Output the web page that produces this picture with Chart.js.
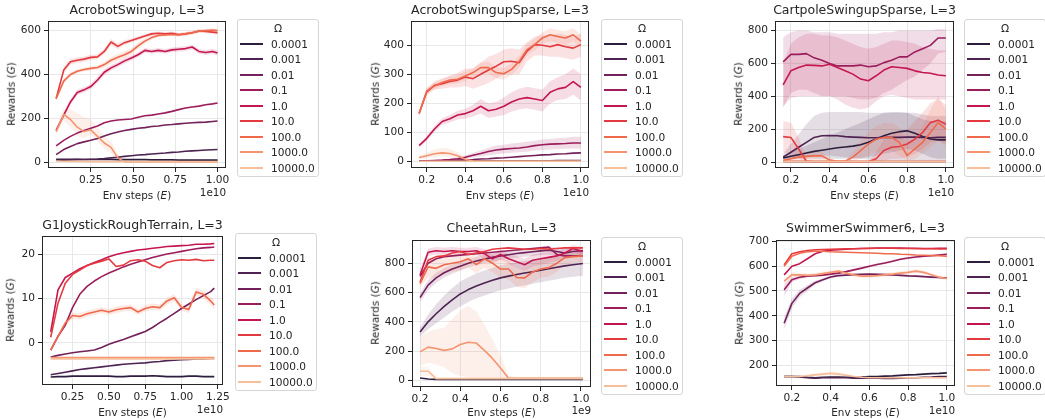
<!DOCTYPE html>
<html lang="en">
<head>
  <meta charset="UTF-8">
  <title>Rewards vs env steps for different Ω</title>
  <script src="https://cdn.jsdelivr.net/npm/chart.js"></script>
  <style>
    body {
      margin: 0;
      background: #fff;
      font-family: 'DejaVu Sans', sans-serif;
      color: #262626;
    }

    #stage {
      position: relative;
      width: 1045px;
      height: 420px;
      overflow: hidden;
    }

    .txt {
      position: absolute;
      white-space: nowrap;
      line-height: 1;
    }

    .title { font-size: 12.5px; transform: translate(-50%, -50%); }
    .xlab { font-size: 10.4px; transform: translate(-50%, -50%); }
    .ylab { font-size: 10.4px; transform: translate(-50%, -50%) rotate(-90deg); }
    .offset { font-size: 10.4px; transform: translate(-100%, -50%); }

    .legend {
      position: absolute;
      width: 82px;
      height: 158px;
      border: 1px solid #d6d6d6;
      border-radius: 3px;
      background: #fff;
      box-sizing: border-box;
      font-size: 10.6px;
    }

    .legend .lt { position: absolute; left: 0; right: 0; text-align: center; transform: translateY(-50%); }
    .legend .sw { position: absolute; left: 2px; width: 23px; height: 2px; }
    .legend .lb { position: absolute; left: 33px; transform: translateY(-50%); white-space: nowrap; }
  </style>
</head>
<body>
  <div id="stage"></div>

  <script>
    const OMEGAS = ['0.0001', '0.001', '0.01', '0.1', '1.0', '10.0', '100.0', '1000.0', '10000.0'];
    const COLORS = ['#2d1e3e', '#4e2352', '#72215a', '#9c1d5c', '#c5174f', '#e43a3f', '#ef6a4c', '#f4956f', '#f6bf9c'];

    // --- AcrobotSwingup ---
    const acroX = [0.045, 0.09, 0.13, 0.17, 0.21, 0.25, 0.29, 0.33, 0.37, 0.41, 0.45, 0.49, 0.53, 0.57, 0.61, 0.65, 0.69, 0.73, 0.77, 0.81, 0.85, 0.89, 0.93, 0.97, 1.0];
    const acroY = [
      [14, 14, 14, 14, 13, 13, 13, 13, 13, 12, 12, 12, 12, 12, 11, 11, 11, 11, 10, 10, 10, 10, 10, 10, 10],
      [10, 10, 11, 12, 13, 14, 15, 17, 20, 23, 27, 30, 33, 35, 38, 40, 42, 45, 47, 50, 52, 54, 56, 57, 58],
      [35, 58, 72, 85, 93, 100, 108, 120, 130, 138, 145, 150, 155, 158, 163, 165, 170, 172, 175, 178, 180, 182, 183, 186, 188],
      [75, 100, 118, 133, 145, 155, 165, 180, 188, 193, 195, 197, 205, 212, 215, 220, 225, 232, 240, 247, 252, 256, 262, 266, 270],
      [145, 215, 275, 318, 330, 345, 375, 410, 430, 445, 462, 475, 490, 510, 505, 510, 505, 512, 515, 518, 525, 505, 500, 505, 498],
      [290, 420, 458, 465, 470, 478, 480, 505, 548, 528, 545, 555, 565, 575, 585, 588, 585, 588, 582, 585, 590, 598, 596, 593, 590],
      [290, 370, 400, 415, 423, 428, 432, 445, 465, 478, 490, 505, 530, 552, 568, 578, 580, 582, 580, 585, 590, 597, 600, 602, 600],
      [140, 218, 195, 160, 140, 148, 118, 88, 68, 20, 2, 2, 2, 2, 2, 2, 2, 2, 2, 2, 2, 2, 2, 2, 2],
      [6, 5, 4, 4, 4, 3, 3, 3, 3, 3, 3, 3, 3, 3, 3, 3, 3, 3, 3, 3, 3, 3, 3, 3, 3]
    ];
    const acroLo = [null, null, null, null,
      [135, 203, 262, 305, 318, 333, 362, 396, 417, 433, 450, 464, 479, 499, 494, 499, 494, 501, 504, 507, 514, 494, 489, 494, 486],
      [280, 405, 445, 452, 458, 466, 468, 492, 532, 515, 534, 546, 556, 567, 577, 580, 577, 580, 574, 577, 582, 590, 588, 585, 580],
      [282, 360, 390, 406, 414, 418, 422, 432, 450, 462, 474, 490, 516, 540, 558, 570, 573, 575, 573, 578, 583, 590, 593, 595, 592],
      [125, 190, 160, 120, 110, 125, 95, 60, 40, 5, 0, 0, 0, 0, 0, 0, 0, 0, 0, 0, 0, 0, 0, 0, 0],
      null];
    const acroHi = [null, null, null, null,
      [155, 227, 288, 331, 342, 357, 388, 424, 443, 457, 474, 486, 501, 521, 516, 521, 516, 523, 526, 529, 536, 516, 511, 516, 510],
      [300, 435, 471, 478, 482, 490, 492, 518, 562, 541, 556, 564, 574, 583, 593, 596, 593, 596, 590, 593, 598, 606, 604, 601, 600],
      [298, 380, 410, 424, 432, 438, 442, 458, 480, 494, 506, 520, 544, 564, 578, 586, 587, 589, 587, 592, 597, 604, 607, 609, 608],
      [155, 245, 240, 225, 205, 195, 160, 120, 95, 40, 5, 4, 4, 4, 4, 4, 4, 4, 4, 4, 4, 4, 4, 4, 4],
      null];
    const acroXTicks = [0.25, 0.5, 0.75, 1.0];
    const acroXLabels = ['0.25', '0.50', '0.75', '1.00'];
    const acroYTicks = [0, 200, 400, 600];

    // --- AcrobotSwingupSparse ---
    const sparseX = [0.16, 0.20, 0.24, 0.28, 0.32, 0.36, 0.40, 0.44, 0.48, 0.52, 0.56, 0.60, 0.64, 0.68, 0.72, 0.76, 0.80, 0.84, 0.88, 0.92, 0.96, 1.00];
    const sparseY = [
      [2, 2, 2, 2, 2, 2, 2, 2, 2, 2, 2, 2, 2, 2, 2, 2, 2, 2, 2, 2, 2, 2],
      [3, 3, 3, 3, 3, 3, 3, 3, 3, 3, 3, 3, 3, 3, 3, 3, 3, 3, 4, 4, 4, 4],
      [2, 2, 3, 3, 4, 5, 6, 7, 9, 10, 12, 13, 15, 17, 19, 21, 23, 24, 26, 27, 29, 30],
      [2, 3, 4, 5, 7, 10, 15, 22, 28, 35, 40, 43, 45, 47, 50, 55, 58, 60, 61, 62, 64, 64],
      [55, 80, 112, 138, 147, 160, 165, 175, 190, 175, 180, 190, 205, 215, 220, 215, 210, 238, 250, 255, 275, 255],
      [165, 240, 262, 268, 275, 280, 291, 285, 300, 315, 328, 343, 345, 340, 379, 402, 400, 395, 402, 395, 390, 402],
      [165, 243, 260, 272, 280, 283, 294, 306, 323, 323, 306, 302, 317, 345, 385, 402, 425, 436, 430, 425, 436, 414],
      [14, 20, 27, 30, 28, 20, 8, 2, 1, 1, 1, 1, 1, 1, 1, 1, 1, 1, 1, 1, 1, 1],
      [1, 1, 1, 1, 1, 1, 1, 1, 1, 1, 1, 1, 1, 1, 1, 1, 1, 1, 1, 1, 1, 1]
    ];
    const sparseLo = [null, null, null,
      [1, 2, 3, 4, 5, 7, 10, 14, 18, 22, 25, 28, 30, 32, 34, 38, 40, 42, 43, 44, 45, 45],
      [50, 72, 102, 127, 134, 145, 148, 155, 165, 150, 155, 160, 172, 180, 183, 178, 172, 200, 212, 215, 230, 210],
      [155, 228, 248, 250, 255, 255, 260, 250, 260, 270, 285, 300, 300, 300, 345, 365, 365, 360, 360, 355, 350, 360],
      [155, 232, 248, 260, 266, 268, 278, 290, 305, 303, 286, 282, 297, 325, 365, 382, 405, 414, 408, 402, 414, 392],
      [8, 12, 16, 18, 16, 10, 3, 0, 0, 0, 0, 0, 0, 0, 0, 0, 0, 0, 0, 0, 0, 0],
      null];
    const sparseHi = [null, null, null,
      [3, 4, 5, 7, 10, 14, 21, 30, 38, 48, 55, 58, 62, 65, 68, 72, 76, 78, 80, 82, 85, 85],
      [60, 88, 122, 149, 160, 175, 182, 195, 215, 200, 205, 220, 238, 250, 257, 252, 248, 276, 290, 300, 320, 300],
      [175, 252, 276, 286, 295, 305, 320, 320, 340, 360, 370, 385, 390, 385, 410, 430, 435, 430, 440, 435, 430, 440],
      [175, 254, 272, 284, 294, 298, 310, 322, 341, 343, 326, 322, 337, 365, 405, 422, 445, 458, 452, 448, 458, 436],
      [20, 30, 42, 48, 44, 32, 15, 4, 2, 2, 2, 2, 2, 2, 2, 2, 2, 2, 2, 2, 2, 2],
      null];
    const sparseXTicks = [0.2, 0.4, 0.6, 0.8, 1.0];
    const sparseXLabels = ['0.2', '0.4', '0.6', '0.8', '1.0'];
    const sparseYTicks = [0, 100, 200, 300, 400];

    // --- CartpoleSwingupSparse ---
    const cartX = [0.16, 0.20, 0.24, 0.28, 0.32, 0.36, 0.40, 0.44, 0.48, 0.52, 0.56, 0.60, 0.64, 0.68, 0.72, 0.76, 0.80, 0.84, 0.88, 0.92, 0.96, 1.00];
    const cartY = [
      [25, 35, 45, 55, 65, 72, 80, 87, 92, 97, 105, 120, 140, 160, 175, 185, 190, 175, 155, 140, 135, 135],
      [30, 60, 90, 120, 150, 160, 162, 160, 155, 152, 150, 148, 148, 150, 150, 150, 152, 152, 150, 148, 150, 150],
      [3, 3, 3, 3, 3, 3, 3, 3, 3, 3, 3, 3, 3, 3, 3, 3, 3, 3, 3, 3, 3, 3],
      [610, 655, 655, 660, 634, 620, 600, 585, 585, 585, 590, 580, 585, 605, 620, 640, 640, 670, 690, 710, 755, 755],
      [470, 555, 575, 590, 588, 585, 595, 575, 555, 535, 505, 495, 525, 560, 580, 575, 570, 555, 545, 540, 530, 525],
      [155, 150, 80, 5, 2, 2, 2, 2, 2, 2, 2, 2, 20, 70, 90, 95, 110, 140, 180, 240, 255, 230],
      [10, 20, 30, 35, 38, 38, 12, 5, 5, 30, 70, 110, 140, 150, 150, 120, 40, 80, 120, 180, 240, 200],
      [5, 5, 5, 5, 5, 5, 5, 5, 5, 5, 5, 5, 5, 5, 5, 5, 5, 5, 5, 5, 5, 5],
      [2, 2, 2, 2, 2, 2, 2, 2, 2, 2, 2, 2, 2, 2, 2, 2, 2, 2, 2, 2, 2, 2]
    ];
    const cartLo = [
      [10, 15, 20, 20, 20, 20, 20, 20, 20, 20, 25, 30, 40, 50, 60, 70, 80, 70, 50, 30, 20, 20],
      [15, 20, 25, 30, 40, 40, 40, 35, 30, 25, 20, 15, 10, 10, 10, 10, 10, 10, 10, 10, 10, 10],
      null,
      [330, 420, 440, 440, 420, 400, 400, 400, 400, 390, 380, 380, 390, 420, 440, 470, 500, 520, 560, 600, 660, 670],
      [340, 390, 400, 400, 400, 400, 400, 380, 350, 330, 320, 330, 370, 400, 410, 400, 390, 380, 380, 380, 380, 380],
      [60, 50, 20, 0, 0, 0, 0, 0, 0, 0, 0, 0, 0, 10, 20, 20, 30, 50, 80, 120, 130, 110],
      [0, 5, 10, 10, 10, 10, 2, 0, 0, 5, 20, 40, 60, 70, 70, 40, 10, 20, 50, 90, 130, 100],
      null, null];
    const cartHi = [
      [40, 60, 80, 100, 120, 140, 160, 180, 200, 220, 240, 260, 280, 300, 305, 305, 300, 280, 260, 250, 250, 250],
      [50, 110, 170, 230, 280, 300, 305, 305, 305, 305, 305, 300, 300, 300, 300, 300, 300, 300, 290, 280, 280, 280],
      null,
      [760, 790, 800, 800, 790, 790, 790, 780, 780, 780, 780, 780, 780, 790, 790, 800, 800, 800, 800, 800, 810, 810],
      [600, 720, 760, 780, 780, 770, 770, 760, 740, 720, 700, 690, 700, 720, 740, 740, 730, 720, 700, 690, 680, 680],
      [250, 240, 150, 15, 5, 5, 5, 5, 5, 5, 5, 5, 60, 140, 170, 180, 200, 250, 300, 360, 380, 350],
      [25, 40, 55, 60, 65, 65, 25, 10, 10, 60, 130, 180, 220, 240, 240, 210, 100, 150, 220, 320, 400, 320],
      null, null];
    const cartXTicks = [0.2, 0.4, 0.6, 0.8, 1.0];
    const cartXLabels = ['0.2', '0.4', '0.6', '0.8', '1.0'];
    const cartYTicks = [0, 200, 400, 600, 800];

    // --- G1JoystickRoughTerrain ---
    const g1X = [0.10, 0.15, 0.20, 0.25, 0.30, 0.35, 0.40, 0.45, 0.50, 0.55, 0.60, 0.65, 0.70, 0.75, 0.80, 0.85, 0.90, 0.95, 1.00, 1.05, 1.10, 1.15, 1.20, 1.225];
    const g1Y = [
      [-7.7, -7.6, -7.6, -7.5, -7.5, -7.5, -7.5, -7.5, -7.5, -7.6, -7.6, -7.5, -7.5, -7.5, -7.4, -7.5, -7.6, -7.6, -7.6, -7.5, -7.5, -7.6, -7.6, -7.6],
      [-7.2, -6.9, -6.6, -6.3, -6.0, -5.8, -5.6, -5.4, -5.2, -5.0, -4.8, -4.7, -4.6, -4.5, -4.3, -4.2, -4.0, -3.9, -3.8, -3.7, -3.6, -3.6, -3.5, -3.5],
      [-3.2, -2.8, -2.5, -2.2, -2.0, -1.8, -1.6, -1.0, -0.3, 0.3, 0.8, 1.4, 2.0, 2.6, 3.5, 4.6, 5.6, 6.7, 7.8, 8.8, 9.8, 10.7, 11.6, 12.4],
      [-1.6, 1.5, 4.0, 8.0, 11.0, 12.8, 14.0, 15.0, 15.8, 16.5, 17.2, 17.8, 18.3, 18.8, 19.3, 19.7, 20.1, 20.4, 20.7, 21.0, 21.3, 21.5, 21.6, 21.7],
      [2.5, 12, 14.8, 15.8, 16.8, 17.5, 18.2, 18.8, 19.5, 20.0, 20.4, 20.7, 21.0, 21.2, 21.4, 21.6, 21.8, 21.9, 22.0, 22.1, 22.3, 22.3, 22.4, 22.5],
      [1.3, 9, 13.5, 15.5, 16.5, 17.5, 18.0, 18.5, 19.0, 17.3, 17.6, 18.6, 18.8, 18.5, 17.5, 17.0, 18.2, 18.6, 18.8, 18.7, 18.9, 18.6, 18.7, 18.7],
      [-1.6, 1.5, 4.5, 6.2, 6.0, 6.6, 7.0, 7.4, 7.0, 7.5, 7.8, 8.0, 7.0, 7.8, 8.2, 8.0, 9.5, 10.2, 8.0, 7.6, 11.5, 11.0, 9.5, 8.6],
      [-3.3, -3.3, -3.3, -3.3, -3.3, -3.3, -3.3, -3.3, -3.3, -3.3, -3.3, -3.3, -3.3, -3.3, -3.3, -3.3, -3.3, -3.3, -3.3, -3.3, -3.3, -3.3, -3.3, -3.3],
      [-3.6, -3.6, -3.6, -3.6, -3.6, -3.6, -3.6, -3.6, -3.6, -3.6, -3.6, -3.6, -3.6, -3.6, -3.6, -3.6, -3.6, -3.6, -3.6, -3.6, -3.6, -3.6, -3.6, -3.6]
    ];
    const g1Lo = [null, null, null, null, null, null,
      [-2.0, 1.0, 3.8, 5.5, 5.3, 5.9, 6.3, 6.7, 6.3, 6.8, 7.1, 7.3, 6.3, 7.1, 7.5, 7.3, 8.7, 9.4, 7.2, 6.8, 10.6, 10.1, 8.6, 7.6],
      null, null];
    const g1Hi = [null, null, null, null, null, null,
      [-1.2, 2.0, 5.2, 6.9, 6.7, 7.3, 7.7, 8.1, 7.7, 8.2, 8.5, 8.7, 7.7, 8.5, 8.9, 8.7, 10.3, 11.0, 8.8, 8.4, 12.4, 11.9, 10.4, 9.6],
      null, null];
    const g1XTicks = [0.25, 0.5, 0.75, 1.0, 1.25];
    const g1XLabels = ['0.25', '0.50', '0.75', '1.00', '1.25'];
    const g1YTicks = [0, 10, 20];

    // --- CheetahRun ---
    const cheetahX = [0.20, 0.24, 0.28, 0.32, 0.36, 0.40, 0.44, 0.48, 0.52, 0.56, 0.60, 0.64, 0.68, 0.72, 0.76, 0.80, 0.84, 0.88, 0.92, 0.96, 1.01];
    const cheetahY = [
      [16, 10, 7, 6, 6, 6, 6, 6, 6, 6, 6, 6, 6, 6, 6, 6, 6, 6, 6, 6, 6],
      [330, 400, 455, 505, 550, 590, 620, 645, 665, 683, 700, 712, 723, 733, 742, 752, 762, 772, 782, 790, 798],
      [565, 650, 700, 735, 760, 780, 800, 815, 828, 840, 850, 858, 866, 872, 878, 884, 888, 880, 870, 880, 885],
      [710, 800, 830, 845, 850, 855, 860, 865, 870, 875, 880, 885, 890, 895, 900, 905, 910, 860, 850, 850, 850],
      [720, 875, 885, 880, 885, 880, 880, 885, 865, 830, 860, 830, 810, 790, 820, 830, 840, 850, 870, 900, 880],
      [670, 820, 845, 850, 870, 880, 860, 870, 880, 895, 900, 905, 900, 895, 895, 900, 895, 900, 905, 905, 905],
      [660, 775, 765, 790, 800, 810, 830, 790, 830, 800, 760, 760, 702, 700, 740, 760, 770, 800, 838, 845, 850],
      [195, 227, 218, 205, 215, 245, 260, 255, 205, 150, 85, 15, 15, 15, 15, 15, 15, 15, 15, 15, 15],
      [63, 63, 12, 12, 12, 12, 12, 12, 12, 12, 12, 12, 12, 12, 12, 12, 12, 12, 12, 12, 12]
    ];
    const cheetahLo = [null,
      [300, 350, 390, 430, 470, 505, 535, 560, 580, 598, 615, 628, 640, 650, 660, 670, 680, 690, 700, 708, 715],
      [535, 615, 665, 702, 728, 750, 770, 787, 800, 812, 822, 830, 838, 844, 850, 856, 860, 852, 842, 852, 857],
      null,
      [690, 850, 860, 855, 860, 855, 855, 860, 835, 795, 825, 795, 770, 750, 780, 790, 805, 815, 840, 875, 850],
      null,
      [640, 700, 700, 730, 740, 750, 770, 730, 770, 740, 700, 690, 640, 630, 670, 700, 710, 740, 790, 800, 810],
      [100, 120, 110, 90, 50, 30, 20, 15, 10, 5, 5, 5, 5, 5, 5, 5, 5, 5, 5, 5, 5],
      [30, 30, 5, 5, 5, 5, 5, 5, 5, 5, 5, 5, 5, 5, 5, 5, 5, 5, 5, 5, 5]];
    const cheetahHi = [null,
      [360, 450, 520, 580, 630, 675, 705, 730, 750, 768, 785, 796, 806, 816, 824, 834, 844, 854, 864, 872, 880],
      [595, 685, 735, 768, 792, 810, 830, 843, 856, 868, 878, 886, 894, 900, 906, 912, 916, 908, 898, 908, 913],
      null,
      [750, 900, 910, 905, 910, 905, 905, 910, 895, 865, 895, 865, 850, 830, 860, 870, 875, 885, 900, 925, 910],
      null,
      [690, 840, 830, 850, 860, 870, 880, 850, 880, 860, 830, 820, 770, 760, 800, 820, 830, 860, 880, 890, 890],
      [300, 330, 350, 360, 420, 475, 510, 470, 380, 280, 170, 30, 25, 25, 25, 25, 25, 25, 25, 25, 25],
      [95, 95, 20, 20, 20, 20, 20, 20, 20, 20, 20, 20, 20, 20, 20, 20, 20, 20, 20, 20, 20]];
    const cheetahXTicks = [0.2, 0.4, 0.6, 0.8, 1.0];
    const cheetahXLabels = ['0.2', '0.4', '0.6', '0.8', '1.0'];
    const cheetahYTicks = [0, 200, 400, 600, 800];

    // --- SwimmerSwimmer6 ---
    const swimX = [0.16, 0.20, 0.24, 0.28, 0.32, 0.36, 0.40, 0.44, 0.48, 0.52, 0.56, 0.60, 0.64, 0.68, 0.72, 0.76, 0.80, 0.84, 0.88, 0.92, 0.96, 1.00];
    const swimY = [
      [155, 155, 155, 152, 150, 152, 153, 153, 152, 152, 153, 155, 155, 157, 158, 160, 162, 163, 165, 167, 168, 170],
      [155, 155, 153, 150, 148, 150, 150, 150, 150, 148, 148, 148, 148, 147, 147, 148, 150, 150, 152, 153, 155, 155],
      [370, 450, 490, 512, 533, 545, 556, 562, 564, 566, 567, 568, 567, 566, 565, 563, 561, 560, 558, 556, 554, 552],
      [505, 545, 555, 560, 562, 564, 568, 572, 578, 585, 592, 600, 607, 613, 620, 628, 633, 637, 640, 642, 645, 648],
      [565, 600, 610, 630, 650, 660, 664, 666, 668, 670, 671, 672, 673, 673, 673, 673, 672, 672, 671, 671, 672, 672],
      [605, 650, 658, 663, 666, 667, 668, 669, 670, 670, 671, 671, 672, 672, 672, 671, 671, 670, 670, 670, 669, 669],
      [600, 640, 652, 658, 660, 660, 658, 657, 656, 655, 654, 653, 652, 650, 650, 648, 647, 645, 644, 643, 642, 640],
      [540, 565, 565, 563, 565, 570, 575, 580, 572, 565, 560, 560, 562, 565, 568, 572, 575, 580, 575, 565, 555, 550],
      [155, 155, 155, 158, 162, 165, 168, 165, 160, 155, 152, 150, 150, 150, 150, 150, 150, 150, 150, 150, 150, 150]
    ];
    const swimLo = [null, null,
      [345, 430, 475, 500, 525, 539, 551, 558, 561, 563, 564, 565, 564, 563, 562, 560, 558, 557, 555, 553, 551, 549],
      [480, 535, 548, 555, 558, 560, 564, 568, 574, 581, 588, 596, 603, 609, 616, 624, 629, 633, 636, 638, 641, 644],
      null, null, null,
      [530, 555, 557, 555, 557, 562, 567, 572, 564, 557, 552, 552, 554, 557, 560, 564, 567, 572, 567, 557, 547, 542],
      [150, 150, 150, 152, 154, 156, 158, 156, 152, 150, 148, 146, 146, 146, 146, 146, 146, 146, 146, 146, 146, 146]];
    const swimHi = [null, null,
      [395, 470, 505, 524, 541, 551, 561, 566, 567, 569, 570, 571, 570, 569, 568, 566, 564, 563, 561, 559, 557, 555],
      [530, 555, 562, 565, 566, 568, 572, 576, 582, 589, 596, 604, 611, 617, 624, 632, 637, 641, 644, 646, 649, 652],
      null, null, null,
      [550, 575, 573, 571, 573, 578, 583, 588, 580, 573, 568, 568, 570, 573, 576, 580, 583, 588, 583, 573, 563, 558],
      [160, 160, 160, 164, 170, 174, 178, 174, 168, 160, 156, 154, 154, 154, 154, 154, 154, 154, 154, 154, 154, 154]];
    const swimXTicks = [0.2, 0.4, 0.6, 0.8, 1.0];
    const swimXLabels = ['0.2', '0.4', '0.6', '0.8', '1.0'];
    const swimYTicks = [200, 300, 400, 500, 600, 700];

    // layout: box = plot frame [left, top, right, bottom] in page pixels
    const PANELS = [
      { title: 'AcrobotSwingup, L=3', x: acroX, y: acroY, lo: acroLo, hi: acroHi,
        xt: acroXTicks, xl: acroXLabels, yt: acroYTicks, xr: [-0.003, 1.05], yr: [-26, 642], off: '1e10',
        box: [48, 20, 226, 168], titleY: 10, ylabX: 10.5, xlabY: 195, offY: 192, leg: [237, 19] },
      { title: 'AcrobotSwingupSparse, L=3', x: sparseX, y: sparseY, lo: sparseLo, hi: sparseHi,
        xt: sparseXTicks, xl: sparseXLabels, yt: sparseYTicks, xr: [0.118, 1.042], yr: [-22, 482], off: '1e10',
        box: [411, 20, 589, 168], titleY: 10, ylabX: 375, xlabY: 195, offY: 192, leg: [601, 19] },
      { title: 'CartpoleSwingupSparse, L=3', x: cartX, y: cartY, lo: cartLo, hi: cartHi,
        xt: cartXTicks, xl: cartXLabels, yt: cartYTicks, xr: [0.118, 1.042], yr: [-36, 856], off: '1e10',
        box: [775, 20, 954, 168], titleY: 10, ylabX: 738, xlabY: 195, offY: 192, leg: [964, 19] },
      { title: 'G1JoystickRoughTerrain, L=3', x: g1X, y: g1Y, lo: g1Lo, hi: g1Hi,
        xt: g1XTicks, xl: g1XLabels, yt: g1YTicks, xr: [0.04, 1.285], yr: [-9.5, 24.1], off: '1e10',
        box: [42, 235, 223, 385], titleY: 225, ylabX: 10, xlabY: 411.5, offY: 409, leg: [235, 233] },
      { title: 'CheetahRun, L=3', x: cheetahX, y: cheetahY, lo: cheetahLo, hi: cheetahHi,
        xt: cheetahXTicks, xl: cheetahXLabels, yt: cheetahYTicks, xr: [0.16, 1.05], yr: [-45, 956], off: '1e9',
        box: [412, 239, 591, 387], titleY: 228, ylabX: 375, xlabY: 412, offY: 410, leg: [601, 237] },
      { title: 'SwimmerSwimmer6, L=3', x: swimX, y: swimY, lo: swimLo, hi: swimHi,
        xt: swimXTicks, xl: swimXLabels, yt: swimYTicks, xr: [0.118, 1.042], yr: [117, 704], off: '1e10',
        box: [776, 239, 955, 386], titleY: 228, ylabX: 739, xlabY: 412, offY: 410, leg: [964, 237] }
    ];

    const FONT = "'DejaVu Sans', sans-serif";
    const Y_W = 40, PAD_T = 8, PAD_R = 16, X_H = 24;
    const BAND_ALPHA = 0.15;
    const stage = document.getElementById('stage');

    function rgba(hex, a) {
      const n = parseInt(hex.slice(1), 16);
      return `rgba(${n >> 16},${(n >> 8) & 255},${n & 255},${a})`;
    }

    function pts(xs, ys) {
      return xs.map((x, i) => ({ x: x, y: ys[i] }));
    }

    function addText(cls, html, x, y) {
      const d = document.createElement('div');
      d.className = 'txt ' + cls;
      d.innerHTML = html;
      d.style.left = x + 'px';
      d.style.top = y + 'px';
      stage.appendChild(d);
    }

    // matplotlib-like frame around the plot area
    const framePlugin = {
      id: 'frame',
      afterDatasetsDraw(chart) {
        const a = chart.chartArea;
        const ctx = chart.ctx;
        const l = Math.round(a.left) + 0.5, t = Math.round(a.top) + 0.5;
        const r = Math.round(a.right) - 0.5, b = Math.round(a.bottom) - 0.5;
        ctx.save();
        ctx.strokeStyle = '#262626';
        ctx.lineWidth = 1;
        ctx.strokeRect(l, t, r - l, b - t);
        ctx.restore();
      }
    };

    function addLegend(p) {
      const box = document.createElement('div');
      box.className = 'legend';
      box.style.left = p.leg[0] + 'px';
      box.style.top = p.leg[1] + 'px';
      let html = '<div class="lt" style="top:8px">Ω</div>';
      OMEGAS.forEach((o, i) => {
        const cy = 23.5 + i * 15.5;
        html += `<div class="sw" style="top:${cy - 1}px;background:${COLORS[i]}"></div>`;
        html += `<div class="lb" style="top:${cy}px">${o}</div>`;
      });
      box.innerHTML = html;
      stage.appendChild(box);
    }

    function buildPanel(p) {
      const [L, T, R, B] = p.box;
      const cv = document.createElement('canvas');
      cv.width = Y_W + (R - L) + PAD_R;
      cv.height = PAD_T + (B - T) + X_H;
      cv.style.position = 'absolute';
      cv.style.left = (L - Y_W) + 'px';
      cv.style.top = (T - PAD_T) + 'px';
      stage.appendChild(cv);

      const datasets = [];
      // shaded bands first, below every line
      p.y.forEach((ys, k) => {
        if (!p.lo[k]) return;
        datasets.push({
          data: pts(p.x, p.hi[k]), borderWidth: 0, borderColor: 'transparent', pointRadius: 0,
          backgroundColor: rgba(COLORS[k], BAND_ALPHA), fill: '+1', order: 300 - k
        });
        datasets.push({
          data: pts(p.x, p.lo[k]), borderWidth: 0, borderColor: 'transparent', pointRadius: 0,
          fill: false, order: 300 - k
        });
      });
      p.y.forEach((ys, k) => {
        datasets.push({
          label: OMEGAS[k], data: pts(p.x, ys), borderColor: COLORS[k], borderWidth: 1.6,
          pointRadius: 0, fill: false, order: 100 - k, borderJoinStyle: 'round'
        });
      });

      const tickFont = { family: FONT, size: 10.6 };
      new Chart(cv, {
        type: 'line',
        data: { datasets: datasets },
        options: {
          responsive: false,
          animation: false,
          layout: { padding: { top: PAD_T, right: PAD_R, left: 0, bottom: 0 } },
          plugins: { legend: { display: false }, tooltip: { enabled: false } },
          elements: { line: { tension: 0 } },
          scales: {
            x: {
              type: 'linear', min: p.xr[0], max: p.xr[1],
              afterFit: s => { s.height = X_H; },
              afterBuildTicks: s => { s.ticks = p.xt.map(v => ({ value: v })); },
              ticks: { callback: (v, i) => p.xl[i], autoSkip: false, maxRotation: 0, padding: 2, color: '#262626', font: tickFont },
              grid: { color: '#e8e8e8', tickColor: '#262626', tickLength: 4, lineWidth: 1 },
              border: { display: false }
            },
            y: {
              type: 'linear', min: p.yr[0], max: p.yr[1],
              afterFit: s => { s.width = Y_W; },
              afterBuildTicks: s => { s.ticks = p.yt.map(v => ({ value: v })); },
              ticks: { callback: v => String(v), autoSkip: false, padding: 3, color: '#262626', font: tickFont },
              grid: { color: '#e8e8e8', tickColor: '#262626', tickLength: 4, lineWidth: 1 },
              border: { display: false }
            }
          }
        },
        plugins: [framePlugin]
      });

      addText('title', p.title, (L + R) / 2, p.titleY);
      addText('ylab', 'Rewards (<i>G</i>)', p.ylabX, (T + B) / 2);
      addText('xlab', 'Env steps (<i>E</i>)', (L + R) / 2, p.xlabY);
      addText('offset', p.off, R, p.offY);
      addLegend(p);
    }

    PANELS.forEach(buildPanel);
  </script>
</body>
</html>
